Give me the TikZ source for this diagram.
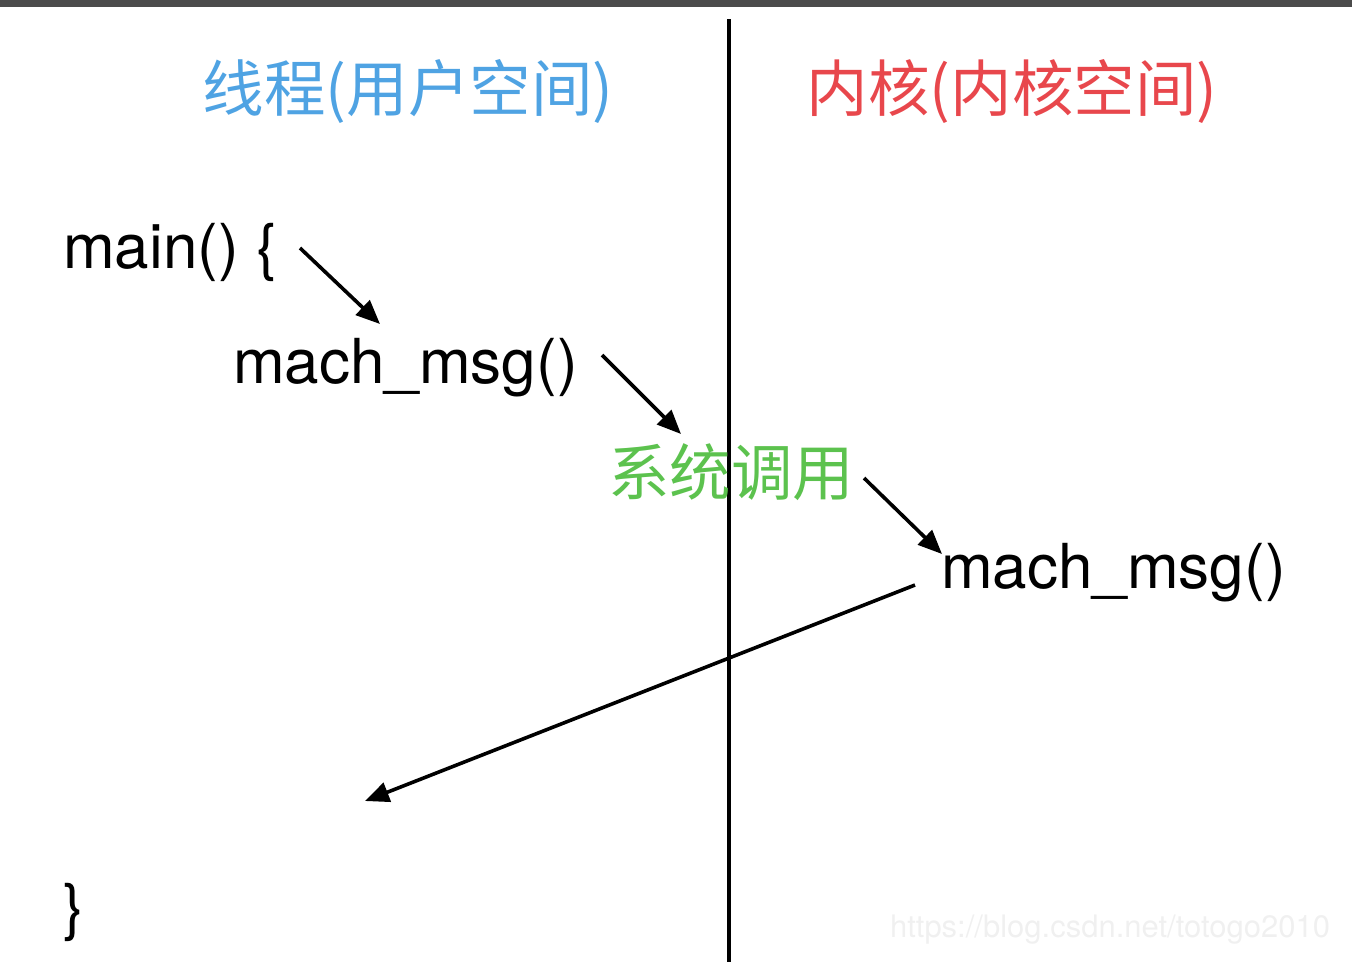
\documentclass[tikz,border=0pt]{standalone}
\usepackage{fontspec}
\setmainfont{TeX Gyre Heros}
\newfontfamily\cjk{Noto Sans CJK SC}
\usetikzlibrary{arrows.meta}
\definecolor{topbar}{HTML}{4B4B4B}
\definecolor{userblue}{HTML}{4FA3E3}
\definecolor{kernred}{HTML}{E8474C}
\definecolor{callgreen}{HTML}{5CC24E}
\definecolor{wmgray}{HTML}{F0F0F0}
\tikzset{
  code/.style={inner sep=0pt, anchor=base west, font=\fontsize{62}{74}\selectfont},
  title/.style={inner sep=0pt, font=\cjk\fontsize{61.5}{72}\selectfont},
  flow/.style={line width=3.6pt, -{Triangle[length=24pt,width=20pt]}},
}
\begin{document}
\begin{tikzpicture}[x=1pt,y=-1pt]
\useasboundingbox (0,0) rectangle (1352,962);
\fill[topbar] (0,0) rectangle (1352,7);
\draw[line width=3.2pt] (729,19) -- (729,962);
\node[title, text=userblue] (user) at (408,92) {线程(用户空间)};
\node[title, text=kernred] (kern) at (1012,92) {内核(内核空间)};
\node[code] (main) at (63,268) {main() \{};
\node[code] (umsg) at (233,383) {mach\_msg()};
\node[title, text=callgreen] (sys) at (731,472) {系统调用};
\node[code] (kmsg) at (941,588) {mach\_msg()};
\node[code] (close) at (63,928) {\}};
\node[inner sep=0pt, text=wmgray, font=\fontsize{31}{36}\selectfont] (wm) at (1110,930) {https://blog.csdn.net/totogo2010};
\coordinate (a1s) at (300,248); \coordinate (a1e) at (380,324);
\coordinate (a2s) at (602,355); \coordinate (a2e) at (681,434);
\coordinate (a3s) at (864,478); \coordinate (a3e) at (942,554);
\coordinate (a4s) at (915,585); \coordinate (a4e) at (365,801);
\draw[flow] (a1s) -- (a1e);
\draw[flow] (a2s) -- (a2e);
\draw[flow] (a3s) -- (a3e);
\draw[flow] (a4s) -- (a4e);
\end{tikzpicture}
\end{document}
